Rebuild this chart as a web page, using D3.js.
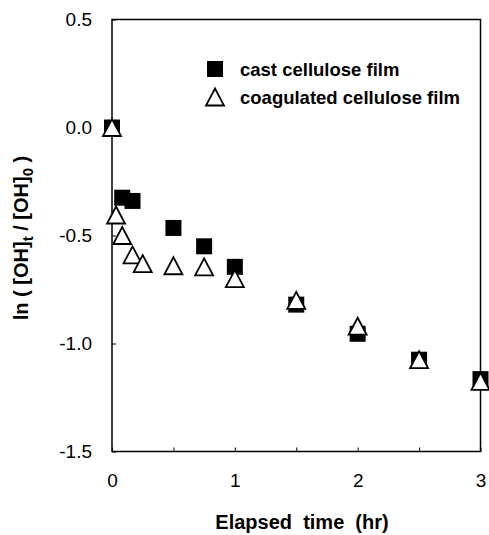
<!DOCTYPE html>
<html>
<head>
<meta charset="utf-8">
<script src="https://cdn.jsdelivr.net/npm/d3@7"></script>
<style>
  body { margin: 0; background: #fff; }
  svg { font-family: "Liberation Sans", Arial, sans-serif; }
  text { white-space: pre; }
</style>
</head>
<body>
<svg id="chart"></svg>
<script>
// cast cellulose film (filled squares)
const castTime  = [0, 0.083, 0.167, 0.5, 0.75, 1, 1.5, 2, 2.5, 3];
const castValue = [0, -0.325, -0.34, -0.465, -0.55, -0.645, -0.82, -0.955, -1.075, -1.165];

// coagulated cellulose film (open triangles)
const coagTime  = [0, 0.033, 0.083, 0.167, 0.25, 0.5, 0.75, 1, 1.5, 2, 2.5, 3];
const coagValue = [0, -0.405, -0.5, -0.59, -0.63, -0.64, -0.645, -0.70, -0.80, -0.92, -1.075, -1.175];

const xTicks = [0, 0.5, 1, 1.5, 2, 2.5, 3];
const xLabels = [0, 1, 2, 3];
const yTicks = [0.5, 0, -0.5, -1, -1.5];
const legendLabels = ["cast cellulose film", "coagulated cellulose film"];

const svgWidth = 489, svgHeight = 535;
const margin = { top: 19.5, right: 8.5, bottom: 83.5, left: 112 };
const width = svgWidth - margin.left - margin.right;
const height = svgHeight - margin.top - margin.bottom;

const svg = d3.select("#chart")
    .attr("width", svgWidth)
    .attr("height", svgHeight);

const g = svg.append("g")
    .attr("transform", "translate(" + margin.left + "," + margin.top + ")");

const x = d3.scaleLinear().domain([0, 3]).range([0, width]);
const y = d3.scaleLinear().domain([-1.5, 0.5]).range([height, 0]);

// axes, ticks pointing inward
const xAxis = d3.axisBottom(x)
    .tickValues(xTicks)
    .tickSizeInner(-4)
    .tickSizeOuter(0)
    .tickPadding(22)
    .tickFormat(function(d) { return xLabels.indexOf(d) >= 0 ? d3.format("d")(d) : ""; });

const yAxis = d3.axisLeft(y)
    .tickValues(yTicks)
    .tickSizeInner(-4)
    .tickSizeOuter(0)
    .tickPadding(20)
    .tickFormat(function(d) { return d3.format(".1f")(d).replace("\u2212", "-"); });

g.append("g")
    .attr("transform", "translate(0," + height + ")")
    .call(xAxis)
    .call(function(a) { a.select(".domain").remove(); });

g.append("g")
    .call(yAxis)
    .call(function(a) { a.select(".domain").remove(); });

g.selectAll(".tick line").attr("stroke", "#000").attr("stroke-width", 1);
g.selectAll(".tick text")
    .attr("font-family", "Liberation Sans, Arial, sans-serif")
    .attr("font-size", 19)
    .attr("fill", "#000");

// frame
g.append("rect")
    .attr("width", width)
    .attr("height", height)
    .attr("fill", "none")
    .attr("stroke", "#000")
    .attr("stroke-width", 1.5);

const squarePath = "M-8,-8H8V8H-8Z";
const trianglePath = "M0,-8.5L9,8.5H-9Z";

const castData = castTime.map(function(t, i) { return { t: t, v: castValue[i] }; });
const coagData = coagTime.map(function(t, i) { return { t: t, v: coagValue[i] }; });

g.selectAll(".cast")
    .data(castData)
    .enter().append("path")
    .attr("class", "cast")
    .attr("d", squarePath)
    .attr("transform", function(d) { return "translate(" + x(d.t) + "," + y(d.v) + ")"; })
    .attr("fill", "#000");

g.selectAll(".coag")
    .data(coagData)
    .enter().append("path")
    .attr("class", "coag")
    .attr("d", trianglePath)
    .attr("transform", function(d) { return "translate(" + x(d.t) + "," + y(d.v) + ")"; })
    .attr("fill", "#fff")
    .attr("stroke", "#000")
    .attr("stroke-width", 1.8)
    .attr("stroke-linejoin", "miter");

// legend
const legendGap = 28;
const legend = svg.append("g").attr("transform", "translate(215,69)");
legend.append("path").attr("d", squarePath).attr("fill", "#000");
legend.append("path")
    .attr("d", trianglePath)
    .attr("transform", "translate(0," + legendGap + ")")
    .attr("fill", "#fff")
    .attr("stroke", "#000")
    .attr("stroke-width", 1.8);
legend.selectAll(".leg-text")
    .data(legendLabels)
    .enter().append("text")
    .attr("class", "leg-text")
    .attr("x", 25)
    .attr("y", function(d, i) { return i * legendGap + 6.5; })
    .attr("font-size", 18.5)
    .attr("font-weight", "bold")
    .text(function(d) { return d; });

// x title
svg.append("text")
    .attr("x", 302)
    .attr("y", 529)
    .attr("text-anchor", "middle")
    .attr("font-size", 20)
    .attr("font-weight", "bold")
    .text("Elapsed  time  (hr)");

// y title with subscripts
const yTitle = svg.append("text")
    .attr("transform", "translate(28,238) rotate(-90)")
    .attr("text-anchor", "middle")
    .attr("font-size", 20)
    .attr("font-weight", "bold");
yTitle.append("tspan").text("ln ( [OH]");
yTitle.append("tspan").attr("dy", 5).attr("font-size", 15).text("t");
yTitle.append("tspan").attr("dy", -5).text(" / [OH]");
yTitle.append("tspan").attr("dy", 5).attr("font-size", 15).text("0");
yTitle.append("tspan").attr("dy", -5).text(" )");
</script>
</body>
</html>
